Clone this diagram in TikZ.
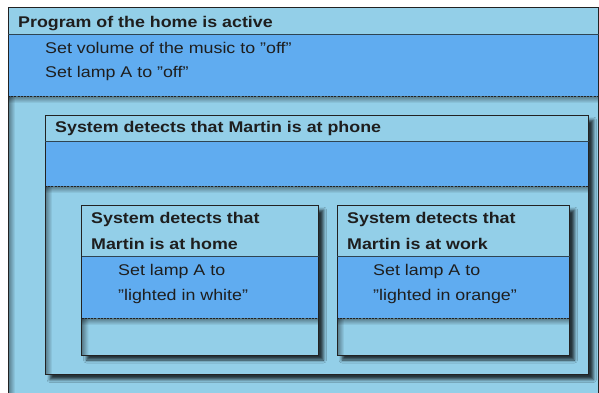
\documentclass[tikz,border=0pt]{standalone}
\usepackage{fontspec}
\setmainfont{Liberation Sans}[FakeStretch=1.15]
\usetikzlibrary{shadows.blur,fadings}
\definecolor{lightband}{HTML}{93CFE8}
\definecolor{blueband}{HTML}{60ACF0}
\definecolor{edgecol}{HTML}{222222}
\definecolor{sepcol}{HTML}{2E4452}
\definecolor{txtcol}{HTML}{1E1E1E}
\tikzset{
  boxedge/.style={draw=edgecol, line width=1pt},
  sepline/.style={draw=sepcol, line width=1pt},
  dashline/.style={draw=edgecol, line width=0.9pt, dash pattern=on 2pt off 1.2pt},
  bt/.style={anchor=base west, inner sep=0pt, text=txtcol, font=\fontsize{15.5}{18}\selectfont\bfseries},
  rt/.style={anchor=base west, inner sep=0pt, text=txtcol, font=\fontsize{15.5}{18}\selectfont},
  dropsh/.style={blur shadow={shadow xshift=5pt, shadow yshift=-5pt, shadow blur radius=3pt, shadow opacity=75}}
}
\newcommand{\innershadow}[4]{%
  \fill[black, fill opacity=0.42, path fading=south] (#1,#2) rectangle (#3,#2+7);
  \fill[black, fill opacity=0.42, path fading=east] (#1,#2) rectangle (#1+7,#4);
}
% x1 y1 x2 y2 ysep ydash
\newcommand{\umlbox}[6]{%
  \path[dropsh] (#1,#2) rectangle (#3,#4);
  \fill[lightband] (#1,#2) rectangle (#3,#4);
  \fill[blueband] (#1,#5) rectangle (#3,#6);
  \innershadow{#1}{#6}{#3}{#4}
  \draw[boxedge] (#1,#2) rectangle (#3,#4);
  \draw[sepline] (#1,#5) -- (#3,#5);
  \draw[dashline] (#1,#6) -- (#3,#6);
}
\begin{document}
\begin{tikzpicture}[x=1pt,y=-1pt]
\useasboundingbox (0,0) rectangle (599,392);
\clip (0,0) rectangle (599,392);
\fill[white] (0,0) rectangle (599,392);
% outer box
\fill[lightband] (8,7.5) rectangle (598.5,402);
\fill[blueband] (8,34) rectangle (598.5,96);
\innershadow{8}{96}{598.5}{402}
\draw[boxedge] (8,7.5) rectangle (598.5,402);
\draw[sepline] (8,34) -- (598.5,34);
\draw[dashline] (8,96) -- (598.5,96);
% phone box
\umlbox{45}{115}{588.5}{374.5}{141}{186}
% home box
\umlbox{81.5}{205}{318.5}{355}{256}{318}
% work box
\umlbox{337}{205}{569.5}{355}{256}{318}
% texts
\node[bt] (t0) at (18,27) {Program of the home is active};
\node[rt] (a1) at (45,53.3) {Set volume of the music to "off"};
\node[rt] (a2) at (45,77.7) {Set lamp A to "off"};
\node[bt] (t1) at (55,132.7) {System detects that Martin is at phone};
\node[bt] (h0a) at (91,223.7) {System detects that};
\node[bt] (h0b) at (91,249.3) {Martin is at home};
\node[rt] (h1) at (118,275.3) {Set lamp A to};
\node[rt] (h2) at (118,300.3) {"lighted in white"};
\node[bt] (w0a) at (347,223.7) {System detects that};
\node[bt] (w0b) at (347,249.3) {Martin is at work};
\node[rt] (w1) at (373,275.3) {Set lamp A to};
\node[rt] (w2) at (373,300.3) {"lighted in orange"};
\end{tikzpicture}
\end{document}
